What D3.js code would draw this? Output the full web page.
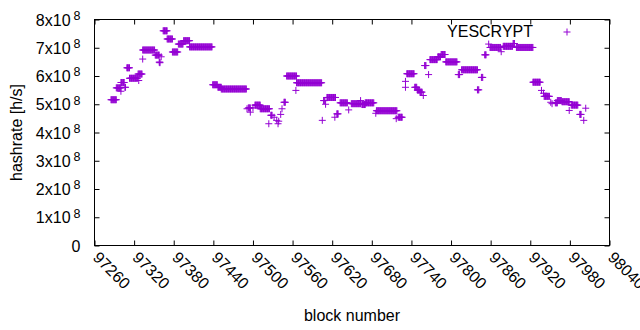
<!DOCTYPE html>
<html>
<head>
<meta charset="utf-8">
<script src="https://cdn.jsdelivr.net/npm/d3@7"></script>
<style>
  body { margin: 0; background: #fff; }
  text { font-family: "Liberation Sans", Arial, sans-serif; fill: #000; }
</style>
</head>
<body>
<div id="chart"></div>
<script>
// runs of consecutive blocks that share one hashrate (units of 1e8 h/s)
var runStart = [97285, 97293, 97300, 97306, 97309, 97313, 97326, 97333, 97352, 97358,
                97364, 97370, 97378, 97387, 97395, 97404, 97439, 97447, 97452, 97493,
                97503, 97511, 97527, 97547, 97551, 97566, 97607, 97612, 97627, 97632,
                97650, 97665, 97670, 97687, 97720, 97733, 97745, 97749, 97753, 97760,
                97768, 97780, 97785, 97792, 97811, 97816, 97840, 97846, 97851, 97859,
                97879, 97894, 97899, 97924, 97941, 97958, 97961, 97968, 97982, 97995];
var runEnd   = [97293, 97300, 97305, 97307, 97313, 97325, 97332, 97351, 97358, 97359,
                97370, 97378, 97386, 97394, 97404, 97438, 97446, 97452, 97490, 97496,
                97511, 97525, 97529, 97549, 97566, 97604, 97609, 97625, 97629, 97643,
                97663, 97670, 97683, 97718, 97726, 97744, 97748, 97752, 97756, 97762,
                97779, 97784, 97791, 97809, 97813, 97840, 97842, 97848, 97853, 97875,
                97893, 97896, 97924, 97935, 97949, 97961, 97967, 97979, 97992, 97997];
var runRate  = [5.16, 5.58, 5.77, 5.60, 6.29, 5.92, 6.07, 6.92, 6.74, 6.49,
                7.60, 7.31, 6.85, 7.13, 7.25, 7.03, 5.69, 5.60, 5.54, 4.87,
                4.97, 4.84, 4.61, 5.07, 6.00, 5.76, 5.13, 5.24, 4.66, 5.05,
                5.02, 4.99, 5.05, 4.77, 4.54, 6.08, 5.60, 5.50, 5.43, 6.37,
                6.58, 6.68, 6.76, 6.50, 6.05, 6.22, 5.51, 5.95, 6.75, 7.01,
                7.05, 7.15, 7.01, 5.78, 5.28, 5.05, 5.13, 5.09, 4.97, 4.64];

// single blocks off the runs
var pointBlock = [97300, 97327, 97333, 97359, 97361, 97491, 97496, 97500, 97524, 97532,
                  97536, 97538, 97539, 97542, 97544, 97565, 97605, 97610, 97624, 97645,
                  97649, 97663, 97686, 97717, 97731, 97731, 97758, 97766, 97857, 97876,
                  97937, 97940, 97951, 97953, 97979, 98001, 98004];
var pointRate  = [5.46, 5.84, 6.60, 6.47, 6.68, 4.84, 4.72, 4.87, 4.31, 4.54,
                  4.43, 4.31, 4.40, 4.64, 4.84, 5.49, 4.43, 5.00, 4.54, 4.80,
                  5.02, 5.13, 4.68, 4.49, 5.60, 5.81, 5.31, 6.05, 7.13, 6.86,
                  5.49, 5.39, 5.07, 5.02, 4.78, 4.43, 4.86];

var xTicks = [97260, 97320, 97380, 97440, 97500, 97560, 97620, 97680, 97740, 97800,
              97860, 97920, 97980, 98040];
var yTicks = [0, 1e8, 2e8, 3e8, 4e8, 5e8, 6e8, 7e8, 8e8];
var yTickMantissa = ["0", "1x10", "2x10", "3x10", "4x10", "5x10", "6x10", "7x10", "8x10"];
var yTickExponent = "8";
var seriesName = "YESCRYPT";

var data = [];
runStart.forEach(function(s, i) {
  d3.range(s, runEnd[i] + 1).forEach(function(b) {
    data.push({block: b, rate: runRate[i] * 1e8});
  });
});
pointBlock.forEach(function(b, i) {
  data.push({block: b, rate: pointRate[i] * 1e8});
});

var W = 640, H = 330;
var margin = {top: 19.5, right: 30.5, bottom: 84.5, left: 94.5};
var width = W - margin.left - margin.right,
    height = H - margin.top - margin.bottom;
var color = "#9400d3";

var svg = d3.select("#chart").append("svg")
    .attr("width", W)
    .attr("height", H);
var g = svg.append("g")
    .attr("transform", "translate(" + margin.left + "," + margin.top + ")");

var x = d3.scaleLinear().domain([97260, 98040]).range([0, width]);
var y = d3.scaleLinear().domain([0, 8e8]).range([height, 0]);

// bottom axis with rotated labels
var xAxis = g.append("g")
    .attr("transform", "translate(0," + height + ")")
    .call(d3.axisBottom(x).tickValues(xTicks).tickSize(-5).tickFormat(d3.format("d")));
xAxis.selectAll("text")
    .attr("x", null).attr("y", null).attr("dy", null)
    .attr("transform", "translate(-3,13) rotate(45)")
    .style("text-anchor", "start")
    .style("font-size", "16px");

// mirrored ticks on top
g.append("g")
    .call(d3.axisTop(x).tickValues(xTicks).tickSize(-5).tickFormat(""));

// left axis, labels as mantissa + superscript
var yAxis = g.append("g")
    .call(d3.axisLeft(y).tickValues(yTicks).tickSize(-5).tickPadding(14));
yAxis.selectAll("text")
    .style("font-size", "16px")
    .attr("dy", "0.35em")
    .text(null)
    .each(function(d, i) {
      var t = d3.select(this);
      t.append("tspan").text(yTickMantissa[i]);
      if (d !== 0) {
        t.append("tspan")
          .attr("dx", 3)
          .attr("dy", "-0.45em")
          .style("font-size", "12.5px")
          .text(yTickExponent);
      }
    });

// mirrored ticks on the right
g.append("g")
    .attr("transform", "translate(" + width + ",0)")
    .call(d3.axisRight(y).tickValues(yTicks).tickSize(-5).tickFormat(""));

g.selectAll(".domain").remove();
g.selectAll(".tick line").attr("stroke", "#000");

// frame
g.append("rect")
    .attr("width", width)
    .attr("height", height)
    .attr("fill", "none")
    .attr("stroke", "#000");

// points as '+'
var s = 3.5;
function plus(px, py) {
  return "M" + (px - s) + "," + py + "H" + (px + s) + "M" + px + "," + (py - s) + "V" + (py + s);
}
g.append("path")
    .attr("d", data.map(function(d) { return plus(x(d.block), y(d.rate)); }).join(""))
    .attr("fill", "none")
    .attr("stroke", color)
    .attr("stroke-width", 1);

// key
g.append("text")
    .attr("x", 533 - margin.left)
    .attr("y", 37 - margin.top)
    .style("text-anchor", "end")
    .style("font-size", "16px")
    .text(seriesName);
g.append("path")
    .attr("d", plus(567 - margin.left, 32 - margin.top))
    .attr("fill", "none")
    .attr("stroke", color);

// axis titles
svg.append("text")
    .attr("x", margin.left + width / 2)
    .attr("y", 321)
    .style("text-anchor", "middle")
    .style("font-size", "16px")
    .text("block number");
svg.append("text")
    .attr("transform", "translate(22," + (margin.top + height / 2) + ") rotate(-90)")
    .style("text-anchor", "middle")
    .style("font-size", "16px")
    .text("hashrate [h/s]");
</script>
</body>
</html>
